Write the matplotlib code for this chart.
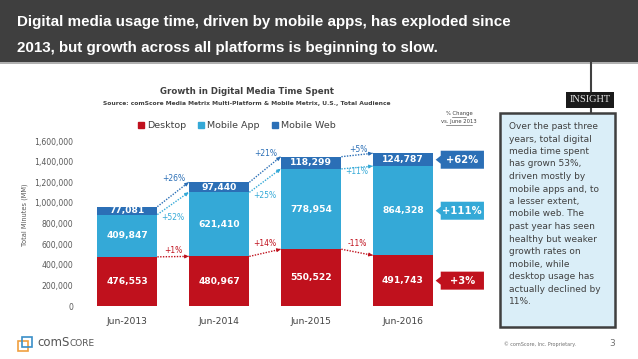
import matplotlib.pyplot as plt
import numpy as np
from matplotlib.patches import Rectangle, Polygon, Patch

# Data
periods = ['Jun-2013', 'Jun-2014', 'Jun-2015', 'Jun-2016']
desktop = [476553, 480967, 550522, 491743]
mobile_app = [409847, 621410, 778954, 864328]
mobile_web = [77081, 97440, 118299, 124787]
y_ticks = [0, 200000, 400000, 600000, 800000, 1000000, 1200000, 1400000, 1600000]

title_lines = ['Digital media usage time, driven by mobile apps, has exploded since',
               '2013, but growth across all platforms is beginning to slow.']
chart_title = 'Growth in Digital Media Time Spent'
chart_source = 'Source: comScore Media Metrix Multi-Platform & Mobile Metrix, U.S., Total Audience'
insight_text = ('Over the past three\nyears, total digital\nmedia time spent\nhas grown 53%,\n'
                'driven mostly by\nmobile apps and, to\na lesser extent,\nmobile web. The\n'
                'past year has seen\nhealthy but weaker\ngrowth rates on\nmobile, while\n'
                'desktop usage has\nactually declined by\n11%.')

# Colors
c_desk = '#c0111d'
c_app = '#34a9d7'
c_web = '#2b6fb6'
c_text = '#404040'
c_tick = '#595959'

W, H = 638, 359


def fx(px):
    return px / W


def fy(py):
    return (H - py) / H


fig = plt.figure(figsize = (W / 100, H / 100), dpi = 100)
fig.patch.set_facecolor('white')

# Title band
fig.patches.append(Rectangle((0, fy(62)), 1, 62 / H, transform = fig.transFigure,
                             facecolor = '#3f3f3f', edgecolor = 'none', zorder = 0))
fig.patches.append(Rectangle((0, fy(64)), 1, 2 / H, transform = fig.transFigure,
                             facecolor = '#b0b0b0', edgecolor = 'none', zorder = 0))
fig.text(fx(17), fy(22), title_lines[0], color = 'white', fontsize = 10.9, fontweight = 'bold',
         family = 'Liberation Sans', ha = 'left', va = 'center')
fig.text(fx(17), fy(48), title_lines[1], color = 'white', fontsize = 10.9, fontweight = 'bold',
         family = 'Liberation Sans', ha = 'left', va = 'center')

# Chart axes
ax = fig.add_axes([fx(80), fy(306), 410 / W, 165 / H])
x = np.arange(len(periods))
width = 0.66
desk = np.array(desktop)
app = np.array(mobile_app)
web = np.array(mobile_web)

ax.bar(x, desk, width, color = c_desk, zorder = 2)
ax.bar(x, app, width, bottom = desk, color = c_app, zorder = 2)
ax.bar(x, web, width, bottom = desk + app, color = c_web, zorder = 2)

# Values in bars
for i in range(len(x)):
    ax.text(x[i], desk[i] / 2, f'{desk[i]:,}', color = 'white', fontsize = 6.6, fontweight = 'bold',
            ha = 'center', va = 'center', zorder = 3)
    ax.text(x[i], desk[i] + app[i] / 2, f'{app[i]:,}', color = 'white', fontsize = 6.6,
            fontweight = 'bold', ha = 'center', va = 'center', zorder = 3)
    ax.text(x[i], desk[i] + app[i] + web[i] / 2, f'{web[i]:,}', color = 'white', fontsize = 6.6,
            fontweight = 'bold', ha = 'center', va = 'center', zorder = 3)

app_top = desk + app
web_top = desk + app + web


def growth_arrow(i, y0, y1, color):
    x0 = x[i] + width / 2
    x1 = x[i + 1] - width / 2
    ax.plot([x0, x1], [y0, y1], color = color, linestyle = (0, (1, 1)), linewidth = 1, zorder = 3)
    ax.annotate('', xy = (x1, y1), xytext = (x1 - 0.04, y1 - (y1 - y0) * 0.04 / (x1 - x0)),
                arrowprops = dict(arrowstyle = '-|>', color = color, lw = 0.8, mutation_scale = 5,
                                  shrinkA = 0, shrinkB = 0), zorder = 3)


# Year-over-year changes
for i in range(len(x) - 1):
    growth_arrow(i, web_top[i], web_top[i + 1], c_web)
    growth_arrow(i, app_top[i], app_top[i + 1], c_app)
    growth_arrow(i, desk[i], desk[i + 1], c_desk)
    p_web = round((web[i + 1] / web[i] - 1) * 100)
    p_app = round((app[i + 1] / app[i] - 1) * 100)
    p_desk = round((desk[i + 1] / desk[i] - 1) * 100)
    ax.annotate(f'{p_web:+d}%', (x[i] + 0.51, max(web_top[i], web_top[i + 1])), xytext = (0, 2.5),
                textcoords = 'offset points', color = c_web, fontsize = 5.5, ha = 'center', va = 'center')
    ax.annotate(f'{p_app:+d}%', (x[i] + 0.5, min(app_top[i], app_top[i + 1])), xytext = (0, -2),
                textcoords = 'offset points', color = c_app, fontsize = 5.5, ha = 'center', va = 'center')
    ax.annotate(f'{p_desk:+d}%', (x[i] + 0.5, max(desk[i], desk[i + 1])), xytext = (0, 4),
                textcoords = 'offset points', color = c_desk, fontsize = 5.5, ha = 'center', va = 'center')

# Change vs. June 2013 callouts
px_y = 1600000 / 165
bx0, bx1, tip = 3.41, 3.88, 3.355
hh, th = 9 * px_y, 4 * px_y
last = len(x) - 1
for series, base, color in [(web, desk + app, c_web), (app, desk, c_app), (desk, np.zeros(len(x)), c_desk)]:
    yc = base[last] + series[last] / 2
    pct = round((series[last] / series[0] - 1) * 100)
    poly = Polygon([(bx0, yc + hh), (bx1, yc + hh), (bx1, yc - hh), (bx0, yc - hh),
                    (bx0, yc - th), (tip, yc), (bx0, yc + th)],
                   closed = True, facecolor = color, edgecolor = 'none', clip_on = False, zorder = 3)
    ax.add_patch(poly)
    ax.text((bx0 + bx1) / 2, yc, f'{pct:+d}%', color = 'white', fontsize = 7.2, fontweight = 'bold',
            ha = 'center', va = 'center', zorder = 4, clip_on = False)

ax.set_xlim((80 - 127) / 92, (490 - 127) / 92)
ax.set_ylim(0, 1600000)
ax.set_xticks(x)
ax.set_xticklabels(periods, fontsize = 6.6, color = c_text)
ax.set_yticks(y_ticks)
ax.set_yticklabels([f'{v:,}' for v in y_ticks], fontsize = 5.6, color = c_tick)
ax.tick_params(axis = 'both', length = 0)
ax.tick_params(axis = 'x', pad = 8)
ax.tick_params(axis = 'y', pad = 5)
for s in ax.spines.values():
    s.set_visible(False)

fig.text(fx(25), fy(215), 'Total Minutes (MM)', rotation = 90, fontsize = 4.8, color = c_tick,
         ha = 'center', va = 'center')

# Chart titles and legend
fig.text(fx(247), fy(92), chart_title, fontsize = 6.2, fontweight = 'bold', color = c_text,
         ha = 'center', va = 'center')
fig.text(fx(247), fy(104), chart_source, fontsize = 4.35, fontweight = 'bold', color = c_text,
         ha = 'center', va = 'center')
handles = [Patch(color = c_desk, label = 'Desktop'), Patch(color = c_app, label = 'Mobile App'),
           Patch(color = c_web, label = 'Mobile Web')]
leg = fig.legend(handles = handles, loc = 'center', bbox_to_anchor = (fx(237), fy(126)), ncol = 3,
                 frameon = False, fontsize = 6.8, handlelength = 0.6, handleheight = 0.6,
                 handletextpad = 0.35, columnspacing = 1.3)
for t in leg.get_texts():
    t.set_color(c_text)

fig.text(fx(459), fy(114), '% Change', fontsize = 3.8, color = c_text, ha = 'center', va = 'center')
fig.text(fx(459), fy(122), 'vs. June 2013', fontsize = 3.8, color = c_text, ha = 'center', va = 'center')
fig.add_artist(plt.Line2D([fx(452), fx(466)], [fy(117), fy(117)], color = c_text, lw = 0.4))
fig.add_artist(plt.Line2D([fx(446), fx(472)], [fy(125), fy(125)], color = c_text, lw = 0.4))

# Insight panel
fig.add_artist(plt.Line2D([fx(591), fx(591)], [fy(62), fy(113)], color = c_text, lw = 1.5, zorder = 1))
fig.patches.append(Rectangle((fx(500), fy(327)), 115 / W, 214 / H, transform = fig.transFigure,
                             facecolor = '#daeef8', edgecolor = '#3f3f3f', linewidth = 1.8, zorder = 2))
fig.patches.append(Rectangle((fx(566), fy(108)), 48 / W, 16 / H, transform = fig.transFigure,
                             facecolor = '#1a1a1a', edgecolor = 'none', zorder = 3))
fig.text(fx(590), fy(100), 'INSIGHT', fontsize = 7.5, color = '#e8e8e8', family = 'Liberation Serif',
         ha = 'center', va = 'center', zorder = 4)
fig.text(fx(509), fy(122), insight_text, fontsize = 6.5, color = c_text, ha = 'left', va = 'top',
         linespacing = 1.5, zorder = 4)

# Footer
fig.patches.append(Rectangle((fx(18), fy(351)), 10 / W, 10 / H, transform = fig.transFigure,
                             facecolor = 'none', edgecolor = '#f0a040', linewidth = 1.2))
fig.patches.append(Rectangle((fx(22), fy(347)), 10 / W, 10 / H, transform = fig.transFigure,
                             facecolor = 'none', edgecolor = '#3a8fc8', linewidth = 1.2))
fig.text(fx(37), fy(343), 'comS', fontsize = 8.5, color = '#555555', ha = 'left', va = 'center')
fig.text(fx(69), fy(343.5), 'CORE', fontsize = 6.5, color = '#555555', ha = 'left', va = 'center')
fig.text(fx(540), fy(344), '© comScore, Inc. Proprietary.', fontsize = 3.5, color = '#707070',
         ha = 'center', va = 'center')
fig.text(fx(612), fy(343), '3', fontsize = 6.5, color = '#707070', ha = 'center', va = 'center')

fig.savefig('out.png', dpi = 100)
